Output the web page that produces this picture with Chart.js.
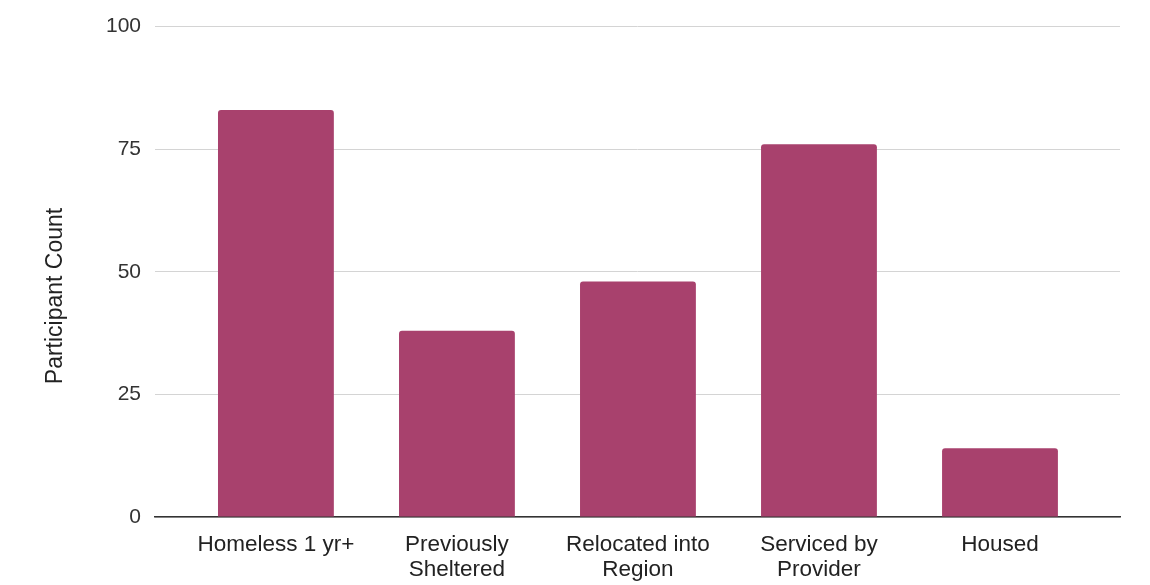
<!DOCTYPE html>
<html>
<head>
<meta charset="utf-8">
<script src="https://cdn.jsdelivr.net/npm/chart.js@4/dist/chart.umd.min.js"></script>
<style>
  html, body { margin: 0; padding: 0; background: #ffffff; }
  #wrap { width: 1150px; height: 585px; position: relative; }
</style>
</head>
<body>
<div id="wrap"><canvas id="c" width="1150" height="585"></canvas></div>
<script>
const categories = [
  ["Homeless 1 yr+"],
  ["Previously", "Sheltered"],
  ["Relocated into", "Region"],
  ["Serviced by", "Provider"],
  ["Housed"]
];
const participantCounts = [83, 38, 48, 76, 14];
const yTicks = [0, 25, 50, 75, 100];
const yAxisTitle = "Participant Count";

const FONT = "'Liberation Sans', Arial, sans-serif";

const yTitlePlugin = {
  id: 'yTitlePlugin',
  afterDraw(chart) {
    const ctx = chart.ctx;
    ctx.save();
    ctx.font = "23px " + FONT;
    ctx.fillStyle = "#222222";
    ctx.textAlign = "center";
    ctx.textBaseline = "middle";
    ctx.translate(56, 296);
    ctx.rotate(-Math.PI / 2);
    ctx.fillText(yAxisTitle, 0, 0);
    ctx.restore();
  }
};

new Chart(document.getElementById('c'), {
  type: 'bar',
  data: {
    datasets: [{
      label: yAxisTitle,
      data: participantCounts.map((v, i) => ({ x: i, y: v })),
      backgroundColor: '#a8416d',
      borderWidth: 0,
      borderRadius: { topLeft: 3, topRight: 3, bottomLeft: 0, bottomRight: 0 },
      borderSkipped: 'bottom',
      categoryPercentage: 1.0,
      barPercentage: 0.64
    }]
  },
  plugins: [yTitlePlugin],
  options: {
    responsive: false,
    animation: false,
    devicePixelRatio: 1,
    layout: { padding: { left: 0, right: 30, top: 24, bottom: 0 } },
    plugins: {
      legend: { display: false },
      tooltip: { enabled: false }
    },
    scales: {
      x: {
        type: 'linear',
        offset: false,
        min: -0.668,
        max: 4.663,
        afterBuildTicks(scale) {
          scale.ticks = categories.map((_, i) => ({ value: i }));
        },
        afterFit(scale) { scale.height = 68; },
        grid: { display: false, drawTicks: false },
        border: { display: true, color: '#333333', width: 1.5 },
        ticks: {
          autoSkip: false,
          maxRotation: 0,
          minRotation: 0,
          padding: 15,
          color: '#222222',
          font: { family: FONT, size: 22.5, lineHeight: 1.12 },
          callback: (value) => categories[value] || ''
        }
      },
      y: {
        min: 0,
        max: 100,
        afterBuildTicks(scale) {
          scale.ticks = yTicks.map(v => ({ value: v }));
        },
        afterFit(scale) { scale.width = 155; },
        grid: { color: '#d4d4d4', lineWidth: 1, drawTicks: false },
        border: { display: false },
        ticks: {
          padding: 14,
          color: '#333333',
          font: { family: FONT, size: 21 }
        }
      }
    }
  }
});
</script>
</body>
</html>
